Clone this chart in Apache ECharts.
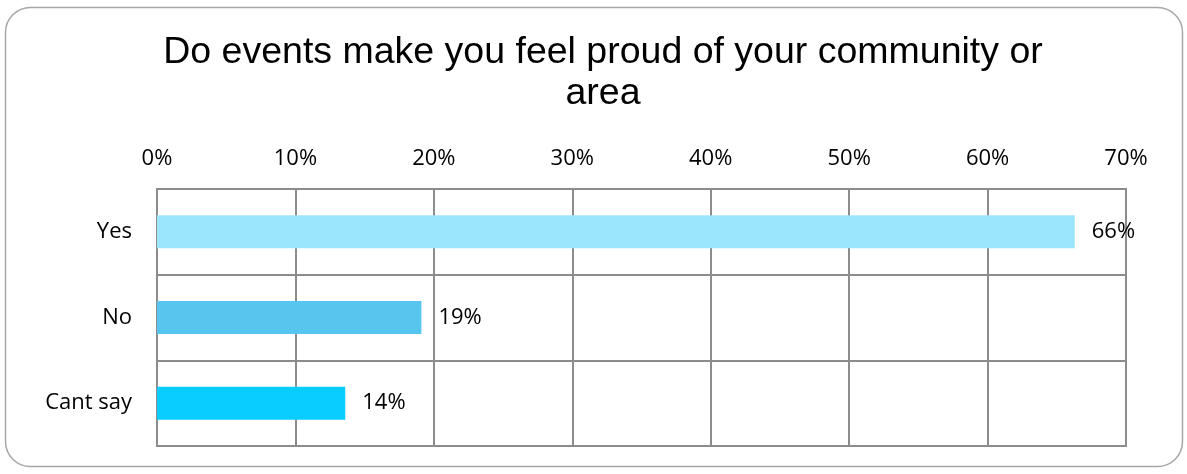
<!DOCTYPE html>
<html>
<head>
<meta charset="utf-8">
<script src="https://cdn.jsdelivr.net/npm/echarts@6/dist/echarts.min.js"></script>
<style>html,body{margin:0;padding:0;background:#fff;}#c{width:1187px;height:474px;}</style>
</head>
<body>
<div id="c"></div>
<script>
const titleText = 'Do events make you feel proud of your community or\narea';
const categories = ['Yes', 'No', 'Cant say'];
const values = [66.3, 19.1, 13.6];
const barColors = ['#9BE5FD', '#57C6EE', '#0ACDFF'];
const axisMin = 0, axisMax = 70, axisInterval = 10;

const chart = echarts.init(document.getElementById('c'), null, {renderer: 'canvas'});
chart.setOption({
  animation: false,
  backgroundColor: '#fff',
  graphic: [{
    type: 'rect',
    shape: {x: 5.5, y: 7.5, width: 1177, height: 459, r: 25},
    style: {fill: 'none', stroke: '#a6a6a6', lineWidth: 1.5},
    z: -1
  }],
  title: {
    text: titleText,
    left: 598,
    textAlign: 'center',
    top: 27,
    textStyle: {fontFamily: 'Liberation Sans', fontSize: 37.5, fontWeight: 'normal', color: '#000', lineHeight: 41}
  },
  grid: {left: 157, right: 61, top: 189, bottom: 28, show: true, borderColor: '#8c8c8c', borderWidth: 2, containLabel: false},
  xAxis: {
    type: 'value', position: 'top', min: axisMin, max: axisMax, interval: axisInterval,
    axisLine: {show: false}, axisTick: {show: false},
    axisLabel: {formatter: '{value}%', fontFamily: 'Open Sans', fontSize: 22, color: '#000', margin: 19},
    splitLine: {show: true, lineStyle: {color: '#8c8c8c', width: 2}}
  },
  yAxis: {
    type: 'category', data: categories, inverse: true,
    axisLine: {show: false}, axisTick: {show: false},
    axisLabel: {fontFamily: 'Open Sans', fontSize: 22, color: '#000', margin: 25},
    splitLine: {show: true, lineStyle: {color: '#8c8c8c', width: 2}}
  },
  series: [{
    type: 'bar',
    data: values.map((v, i) => ({value: v, itemStyle: {color: barColors[i]}})),
    barWidth: 33,
    label: {show: true, position: 'right', distance: 17, formatter: p => Math.round(p.value) + '%',
      fontFamily: 'Open Sans', fontSize: 22, color: '#000'}
  }]
});
</script>
</body>
</html>
